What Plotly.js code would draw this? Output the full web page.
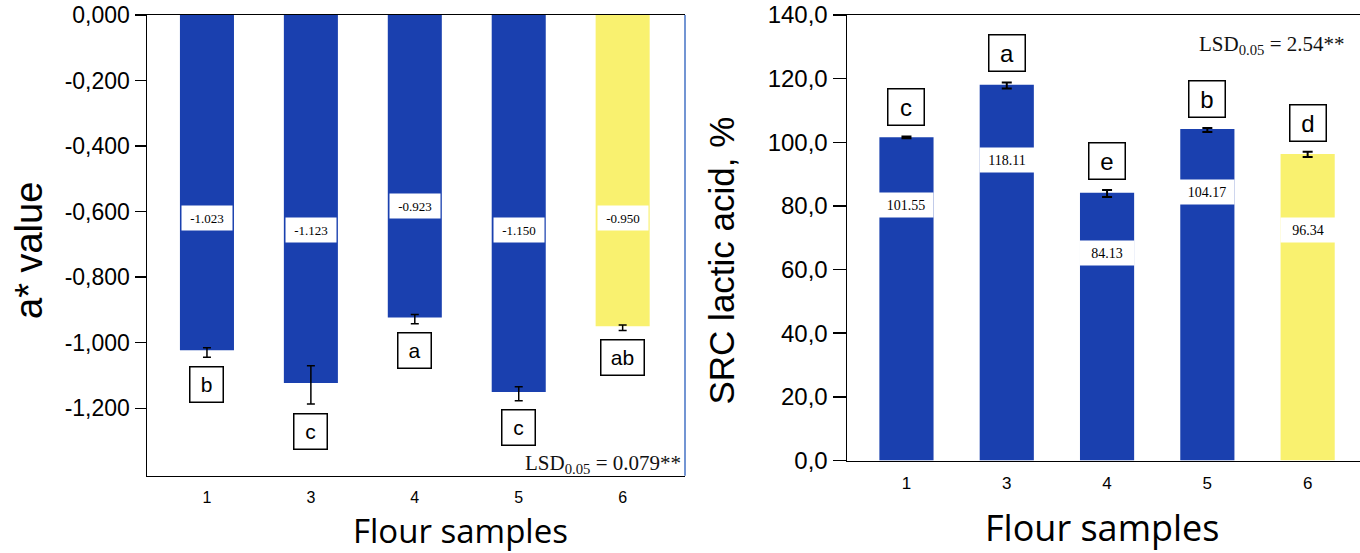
<!DOCTYPE html>
<html>
<head>
<meta charset="utf-8">
<script src="https://cdn.plot.ly/plotly-3.0.1.min.js"></script>
<style>
html,body{margin:0;padding:0;background:#fff;}
#chart{width:1360px;height:553px;}
</style>
</head>
<body>
<div id="chart"></div>
<script>
// ---------------- data ----------------
const samples = ['1', '3', '4', '5', '6'];

// left panel: a* value
const aValues    = [-1.023, -1.123, -0.923, -1.150, -0.950];
const aErrPlus   = [0.008, 0.053, 0.009, 0.016, 0.004];
const aErrMinus  = [0.021, 0.064, 0.019, 0.027, 0.013];
const aLetters   = ['b', 'c', 'a', 'c', 'ab'];
const aTickVals  = [0, -0.2, -0.4, -0.6, -0.8, -1.0, -1.2];
const aTickText  = ['0,000', '-0,200', '-0,400', '-0,600', '-0,800', '-1,000', '-1,200'];
const aLsdText   = 'LSD<sub>0.05</sub> = 0.079**';

// right panel: SRC lactic acid, %
const srcValues   = [101.55, 118.11, 84.13, 104.17, 96.34];
const srcErrPlus  = [0.3, 0.7, 0.9, 0.3, 0.7];
const srcErrMinus = [0.3, 1.2, 1.3, 0.9, 1.0];
const srcLetters  = ['c', 'a', 'e', 'b', 'd'];
const srcTickVals = [0, 20, 40, 60, 80, 100, 120, 140];
const srcTickText = ['0,0', '20,0', '40,0', '60,0', '80,0', '100,0', '120,0', '140,0'];
const srcLsdText  = 'LSD<sub>0.05</sub> = 2.54**';

// ---------------- styles / placement ----------------
const BLUE = '#1A40AF', YELLOW = '#F9F16F';
const barColors = [BLUE, BLUE, BLUE, BLUE, YELLOW];
// vertical placement of the white value boxes inside the bars (axis units)
const aLabelY   = [-0.619, -0.656, -0.583, -0.656, -0.619];
const srcLabelY = [80.4, 94.3, 65.2, 84.3, 72.3];

const SANS = 'Liberation Sans, Arial, sans-serif';
const SERIF = 'Liberation Serif, Times New Roman, serif';
const TITLE = 'Open Sans, sans-serif';

const W = 1360, H = 553;
const px = v => v / W;
const py = v => 1 - v / H;

const traces = [
  {
    type: 'bar', x: samples, y: aValues, xaxis: 'x', yaxis: 'y',
    width: 0.52, marker: {color: barColors},
    error_y: {type: 'data', symmetric: false, array: aErrPlus, arrayminus: aErrMinus,
              color: '#000', thickness: 1.5, width: 4},
    hoverinfo: 'skip'
  },
  {
    type: 'bar', x: samples, y: srcValues, xaxis: 'x2', yaxis: 'y2',
    width: 0.54, marker: {color: barColors},
    error_y: {type: 'data', symmetric: false, array: srcErrPlus, arrayminus: srcErrMinus,
              color: '#000', thickness: 2, width: 5},
    hoverinfo: 'skip'
  }
];

const annotations = [];
samples.forEach((s, i) => {
  // value boxes
  annotations.push({
    xref: 'x', yref: 'y', x: i, y: aLabelY[i], text: aValues[i].toFixed(3),
    showarrow: false, bgcolor: '#fff', width: 50, height: 24, borderpad: 0,
    xanchor: 'center', yanchor: 'middle',
    font: {family: SERIF, size: 13, color: '#000'}
  });
  annotations.push({
    xref: 'x2', yref: 'y2', x: i, y: srcLabelY[i], text: srcValues[i].toFixed(2),
    showarrow: false, bgcolor: '#fff', width: 54, height: 24, borderpad: 0,
    xanchor: 'center', yanchor: 'middle',
    font: {family: SERIF, size: 14, color: '#000'}
  });
  // significance letters
  annotations.push({
    xref: 'x', yref: 'y', x: i, y: aValues[i] - aErrMinus[i], yshift: -27,
    text: aLetters[i], showarrow: false, bgcolor: '#fff',
    bordercolor: '#000', borderwidth: 1.5, borderpad: 4,
    width: aLetters[i].length > 1 ? 34 : 24, height: 26,
    xanchor: 'center', yanchor: 'middle',
    font: {family: SANS, size: 21, color: '#000'}
  });
  annotations.push({
    xref: 'x2', yref: 'y2', x: i, y: srcValues[i] + srcErrPlus[i], yshift: 29,
    text: srcLetters[i], showarrow: false, bgcolor: '#fff',
    bordercolor: '#000', borderwidth: 1.5, borderpad: 4,
    width: 27, height: 27,
    xanchor: 'center', yanchor: 'middle',
    font: {family: SANS, size: 24, color: '#000'}
  });
});

// LSD notes
annotations.push({
  xref: 'paper', yref: 'paper', x: px(682), y: py(449.6), xanchor: 'right', yanchor: 'top',
  text: aLsdText, showarrow: false, borderpad: 0,
  font: {family: SERIF, size: 21, color: '#111'}
});
annotations.push({
  xref: 'paper', yref: 'paper', x: px(1345), y: py(30.6), xanchor: 'right', yanchor: 'top',
  text: srcLsdText, showarrow: false, borderpad: 0,
  font: {family: SERIF, size: 21, color: '#111'}
});

// axis titles
annotations.push({
  xref: 'paper', yref: 'paper', x: px(29), y: py(251), textangle: -90,
  xanchor: 'center', yanchor: 'middle', showarrow: false, borderpad: 0,
  text: 'a* value', font: {family: SANS, size: 38, color: '#000'}
});
annotations.push({
  xref: 'paper', yref: 'paper', x: px(460), y: py(530),
  xanchor: 'center', yanchor: 'middle', showarrow: false, borderpad: 0,
  text: 'Flour samples', font: {family: TITLE, size: 33, color: '#000'}
});
annotations.push({
  xref: 'paper', yref: 'paper', x: px(721), y: py(260.5), textangle: -90,
  xanchor: 'center', yanchor: 'middle', showarrow: false, borderpad: 0,
  text: 'SRC lactic acid, %', font: {family: SANS, size: 35, color: '#000'}
});
annotations.push({
  xref: 'paper', yref: 'paper', x: px(1101.5), y: py(527),
  xanchor: 'center', yanchor: 'middle', showarrow: false, borderpad: 0,
  text: 'Flour samples', font: {family: TITLE, size: 36, color: '#000'}
});

const xCommon = {
  type: 'category', showline: true, mirror: true, linecolor: '#000', linewidth: 1.5,
  ticks: '', showgrid: false, zeroline: false, fixedrange: true, ticklabelstandoff: 7
};
const yCommon = {
  ticks: 'outside', tickcolor: '#000', tickwidth: 1.5, showline: true, linecolor: '#000',
  linewidth: 1.5, showgrid: false, zeroline: false, fixedrange: true
};

const layout = {
  width: W, height: H,
  margin: {l: 0, r: 0, t: 0, b: 0},
  paper_bgcolor: '#fff', plot_bgcolor: '#fff',
  showlegend: false,
  xaxis: Object.assign({}, xCommon, {
    domain: [px(147), px(685)], range: [-0.577, 4.6], anchor: 'y',
    tickfont: {family: SANS, size: 16, color: '#000'}
  }),
  yaxis: Object.assign({}, yCommon, {
    domain: [py(475.7), py(15)], range: [-1.4057, 0], anchor: 'x',
    tickvals: aTickVals, ticktext: aTickText, ticklen: 11,
    tickfont: {family: SANS, size: 23, color: '#000'}
  }),
  xaxis2: Object.assign({}, xCommon, {
    domain: [px(847), 1], range: [-0.593, 4.522], anchor: 'y2',
    tickfont: {family: SANS, size: 17, color: '#000'}
  }),
  yaxis2: Object.assign({}, yCommon, {
    domain: [py(460.5), py(15)], range: [0, 140], anchor: 'x2',
    tickvals: srcTickVals, ticktext: srcTickText, ticklen: 13,
    tickfont: {family: SANS, size: 24, color: '#000'}
  }),
  shapes: [{
    type: 'line', xref: 'x domain', yref: 'y domain', x0: 1, x1: 1, y0: 0, y1: 1,
    line: {color: '#4472C4', width: 1.5}
  }],
  annotations: annotations
};

Plotly.newPlot('chart', traces, layout, {displayModeBar: false, staticPlot: true});
</script>
</body>
</html>
